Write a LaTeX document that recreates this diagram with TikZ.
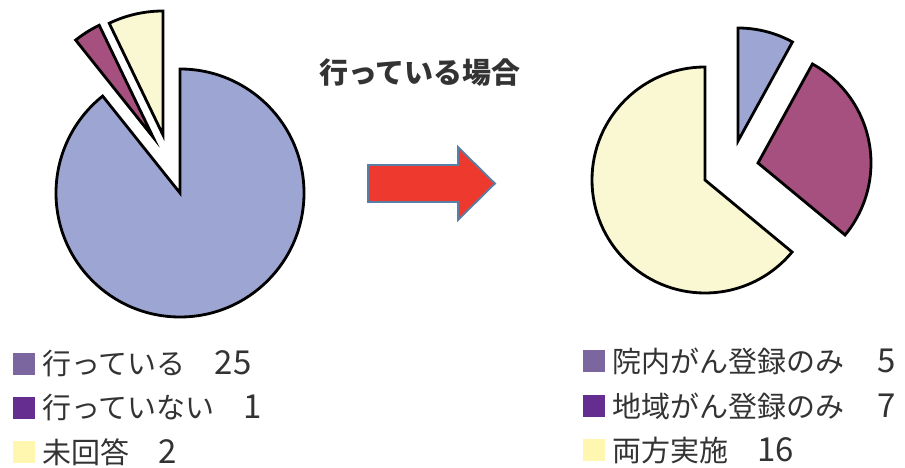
\documentclass[tikz,border=0pt]{standalone}
\usepackage{fontspec}
\newfontfamily\jpfont{Noto Sans CJK JP}
\usetikzlibrary{positioning}
\definecolor{pieblue}{HTML}{9DA6D3}
\definecolor{piepurple}{HTML}{A5507E}
\definecolor{piecream}{HTML}{FAF8D2}
\definecolor{keyone}{HTML}{7B66A0}
\definecolor{keytwo}{HTML}{662D91}
\definecolor{keythree}{HTML}{FFF6B0}
\definecolor{arrowred}{HTML}{EE3A2E}
\definecolor{arrowblue}{HTML}{5A7FA6}
\definecolor{textgray}{HTML}{333333}
\newcommand{\countnum}[1]{{\fontsize{33}{34}\selectfont #1}}

\begin{document}
\begin{tikzpicture}[x=1pt,y=1pt]
    \tikzset{slice/.style = {draw=black, line width=2.8pt}}
    \tikzset{key/.style = {minimum size=22pt, inner sep=0pt}}
    \tikzset{legendtext/.style = {font=\jpfont\fontsize{29}{34}\selectfont, text=textgray, inner sep=0pt}}

    \useasboundingbox (0,0) rectangle (905,468);

    % left pie
    \coordinate (lc) at (180,275);
    \coordinate (lcream) at (163,333);
    \coordinate (lpurple) at (153,331);
    \filldraw[slice, fill=pieblue] (lc) -- ++(90:124) arc[start angle=90, end angle=-231.4, radius=124] -- cycle;
    \filldraw[slice, fill=piecream] (lcream) -- ++(90:124) arc[start angle=90, end angle=115.7, radius=124] -- cycle;
    \filldraw[slice, fill=piepurple] (lpurple) -- ++(115.7:124) arc[start angle=115.7, end angle=128.6, radius=124] -- cycle;

    % title
    \node[font=\jpfont\bfseries\fontsize{29}{34}\selectfont, text=textgray] (title) at (420,395) {行っている場合};

    % arrow
    \filldraw[draw=arrowblue, fill=arrowred, line width=1.8pt] (368,266) -- (368,303) -- (458,303) -- (458,321) -- (495,284.5) -- (458,248) -- (458,266) -- cycle;

    % right pie
    \coordinate (rc) at (705,288);
    \coordinate (rblue) at (738,327);
    \coordinate (rpurple) at (758,305);
    \filldraw[slice, fill=piecream] (rc) -- ++(90:113) arc[start angle=90, end angle=320.4, radius=113] -- cycle;
    \filldraw[slice, fill=pieblue] (rblue) -- ++(61.2:113) arc[start angle=61.2, end angle=90, radius=113] -- cycle;
    \filldraw[slice, fill=piepurple] (rpurple) -- ++(-39.6:113) arc[start angle=-39.6, end angle=61.2, radius=113] -- cycle;

    % left legend
    \node[key, fill=keyone] (lk1) at (24,104) {};
    \node[key, fill=keytwo] (lk2) at (24,60) {};
    \node[key, fill=keythree] (lk3) at (24,16) {};
    \node[legendtext, right=7pt of lk1] (lt1) {行っている　\countnum{25}};
    \node[legendtext, right=7pt of lk2] (lt2) {行っていない　\countnum{1}};
    \node[legendtext, right=7pt of lk3] (lt3) {未回答　\countnum{2}};

    % right legend
    \node[key, fill=keyone] (rk1) at (594,107) {};
    \node[key, fill=keytwo] (rk2) at (594,62) {};
    \node[key, fill=keythree] (rk3) at (594,18) {};
    \node[legendtext, right=7pt of rk1] (rt1) {院内がん登録のみ　\hspace{4pt}\countnum{5}};
    \node[legendtext, right=7pt of rk2] (rt2) {地域がん登録のみ　\hspace{4pt}\countnum{7}};
    \node[legendtext, right=7pt of rk3] (rt3) {両方実施　\countnum{16}};
\end{tikzpicture}
\end{document}
